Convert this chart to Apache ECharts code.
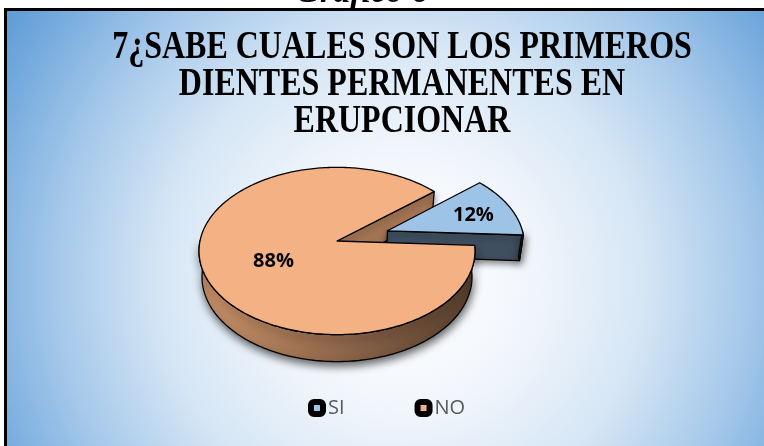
<!DOCTYPE html>
<html>
<head>
<meta charset="utf-8">
<script src="https://cdn.jsdelivr.net/npm/echarts@6/dist/echarts.min.js"></script>
<style>
  html, body { margin: 0; padding: 0; background: #fff; }
  #chart { width: 764px; height: 446px; }
</style>
</head>
<body>
<div id="chart"></div>
<script>
// datos del gráfico
var categories = ['SI', 'NO'];
var values = [12, 88];
var sliceColors = ['#9DC3E6', '#F4B183'];
var cutColors = ['#3F4F5F', '#A37353'];
var wallShades = [['#4A5B6C', '#34414E'], ['#C99168', '#553D2D']];
var explode = [54, 0];
var labelFrac = [0.7, 0.48];
var labelDy = [2, 7];

var titleText = '7¿SABE CUALES SON LOS PRIMEROS\nDIENTES PERMANENTES EN\nERUPCIONAR';

// geometría del pastel 3D (perspectiva)
var CX = 337, CY = 241, R = 137, H = 33;
var TILT = 37 * Math.PI / 180, DIST = 918;
var START = 40.2;

var total = values.reduce(function (a, b) { return a + b; }, 0);

function proj(X, Y, Z) {
  var yc = Y * Math.cos(TILT) + Z * Math.sin(TILT);
  var zc = -Y * Math.sin(TILT) + Z * Math.cos(TILT);
  var s = DIST / (DIST + zc);
  return [CX + X * s, CY - yc * s];
}

function sliceRange(i) {
  var a = START;
  for (var j = 0; j < i; j++) a -= values[j] / total * 360;
  return [a, a - values[i] / total * 360];
}

function buildSlice(i, parts) {
  var rg = sliceRange(i), a1 = rg[0], a2 = rg[1];
  var mid = (a1 + a2) / 2 * Math.PI / 180;
  var ox = explode[i] * Math.cos(mid), oz = explode[i] * Math.sin(mid);
  var rim = function (deg, Y) {
    var t = deg * Math.PI / 180;
    return proj(ox + R * Math.cos(t), Y, oz + R * Math.sin(t));
  };
  var ctr = function (Y) { return proj(ox, Y, oz); };
  var children = [];
  var line = { stroke: '#000', lineWidth: 1.3, lineJoin: 'round' };

  if (parts.indexOf('cut') >= 0) {
    [[a1, a1 + 90], [a2, a2 - 90]].forEach(function (f) {
      if (Math.sin(f[1] * Math.PI / 180) >= 0) return;
      var t = f[0] * Math.PI / 180;
      var zmid = oz + R / 2 * Math.sin(t);
      children.push({
        type: 'polygon', z2: 2 - zmid / 1000,
        shape: { points: [ctr(0), rim(f[0], 0), rim(f[0], -H), ctr(-H)] },
        style: Object.assign({ fill: cutColors[i], shadowBlur: 6, shadowColor: 'rgba(0,0,0,0.45)', shadowOffsetY: 3 }, line)
      });
    });
  }

  if (parts.indexOf('wall') >= 0) {
    for (var k = -1; k <= 1; k++) {
      var lo = Math.max(a2, -180 + k * 360), hi = Math.min(a1, k * 360);
      if (hi <= lo) continue;
      var pts = [], d;
      for (d = hi; d > lo; d -= 1) pts.push(rim(d, 0));
      pts.push(rim(lo, 0));
      for (d = lo; d < hi; d += 1) pts.push(rim(d, -H));
      pts.push(rim(hi, -H));
      children.push({
        type: 'polygon', z2: 5,
        shape: { points: pts },
        style: Object.assign({
          fill: new echarts.graphic.LinearGradient(0, 0, 1, 0, [
            { offset: 0, color: wallShades[i][0] },
            { offset: 1, color: wallShades[i][1] }
          ]),
          shadowBlur: 8, shadowColor: 'rgba(0,0,0,0.6)', shadowOffsetY: 4, shadowOffsetX: 1
        }, line)
      });
    }
  }

  if (parts.indexOf('top') >= 0) {
    var top = [ctr(0)];
    for (var d2 = a1; d2 > a2; d2 -= 1) top.push(rim(d2, 0));
    top.push(rim(a2, 0));
    children.push({
      type: 'polygon', z2: 10,
      shape: { points: top },
      style: Object.assign({ fill: sliceColors[i] }, line)
    });
    var rr = R * labelFrac[i];
    var lp = proj(ox + rr * Math.cos(mid), 0, oz + rr * Math.sin(mid));
    children.push({
      type: 'text', z2: 11, x: lp[0], y: lp[1] + labelDy[i],
      style: {
        text: Math.round(values[i] / total * 100) + '%',
        fill: '#000', fontSize: 20, fontWeight: 'bold', fontFamily: 'Open Sans',
        align: 'center', verticalAlign: 'middle'
      }
    });
  }
  return { type: 'group', children: children };
}

function pieSeries(idx, parts, z) {
  return {
    type: 'custom',
    name: categories[idx],
    coordinateSystem: 'none',
    z: z,
    silent: true,
    itemStyle: { color: sliceColors[idx] },
    data: [{ name: categories[idx], value: values[idx] }],
    renderItem: function () { return buildSlice(idx, parts); }
  };
}

var chart = echarts.init(document.getElementById('chart'));
chart.setOption({
  animation: false,
  graphic: [
    {
      type: 'text', z: -20, x: 362, y: -7,
      style: {
        text: 'Gráfico 6', fill: '#000',
        font: 'italic bold 34px "Liberation Serif"',
        align: 'center', verticalAlign: 'middle'
      }
    },
    {
      type: 'rect', z: -10,
      shape: { x: 5.5, y: 9.5, width: 800, height: 460 },
      style: {
        fill: new echarts.graphic.RadialGradient(0.496, 0.588, 1.04, [
          { offset: 0, color: '#FFFFFF' },
          { offset: 0.25, color: '#F3F7FC' },
          { offset: 0.5, color: '#D6E6F5' },
          { offset: 0.72, color: '#A5C8EA' },
          { offset: 0.9, color: '#74AADD' },
          { offset: 1, color: '#5B9BD5' }
        ]),
        stroke: '#000',
        lineWidth: 3
      }
    },
    {
      type: 'text', z: 5, x: 402, y: 85, scaleX: 0.8,
      style: {
        text: titleText, fill: '#000',
        fontFamily: 'Liberation Serif', fontWeight: 'bold', fontSize: 40,
        lineHeight: 37, align: 'center', verticalAlign: 'middle'
      }
    }
  ],
  legend: {
    data: categories,
    left: 303,
    top: 393,
    icon: 'roundRect',
    itemWidth: 12,
    itemHeight: 12,
    itemGap: 70,
    itemStyle: { borderColor: '#000', borderWidth: 6 },
    textStyle: { fontFamily: 'Open Sans', fontSize: 20, color: '#595959' }
  },
  series: [
    pieSeries(1, ['cut'], 1),
    pieSeries(0, ['cut', 'wall', 'top'], 2),
    pieSeries(1, ['wall', 'top'], 3)
  ]
});
</script>
</body>
</html>
